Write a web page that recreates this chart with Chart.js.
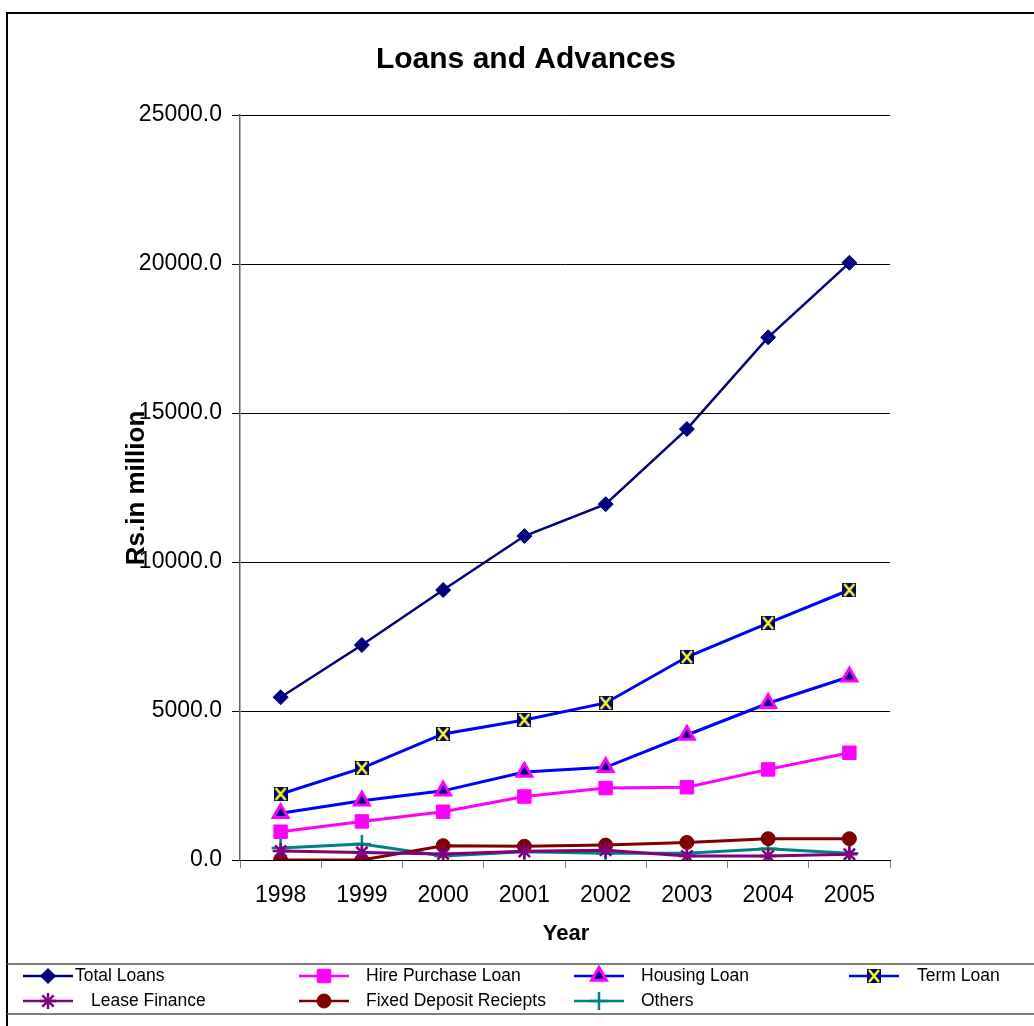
<!DOCTYPE html>
<html>
<head>
<meta charset="utf-8">
<title>Loans and Advances</title>
<script src="https://cdn.jsdelivr.net/npm/chart.js@4.4.1/dist/chart.umd.min.js"></script>
<style>
  html, body { margin: 0; padding: 0; background: #fff; }
  canvas { display: block; }
</style>
</head>
<body>
<canvas id="chart" width="1034" height="1026"></canvas>
<script>
// ── DATOS (Rs. in million) ─────────────────────
const YEARS = ["1998", "1999", "2000", "2001", "2002", "2003", "2004", "2005"];

const TOTAL_LOANS   = [5460, 7215, 9060, 10870, 11940, 14460, 17540, 20040];
const HIRE_PURCHASE = [950, 1295, 1620, 2130, 2415, 2440, 3040, 3600];
const HOUSING_LOAN  = [1570, 1990, 2320, 2950, 3110, 4195, 5260, 6150];
const TERM_LOAN     = [2215, 3085, 4230, 4700, 5270, 6810, 7950, 9060];
const LEASE_FINANCE = [300, 255, 200, 290, 325, 135, 135, 190];
const FIXED_DEPOSIT = [0, 0, 480, 460, 500, 590, 715, 715];
const OTHERS        = [400, 535, 135, 280, 225, 225, 380, 225];

const Y_TICKS = [0, 5000, 10000, 15000, 20000, 25000];

const FONT = "'Liberation Sans', Arial, sans-serif";

// ── MARCADOR TERM LOAN (cuadro azul con X amarilla) ──
function termMarker() {
  const c = document.createElement("canvas");
  c.width = 14; c.height = 14;
  const g = c.getContext("2d");
  g.fillStyle = "#000080";
  g.fillRect(0, 0, 14, 14);
  g.strokeStyle = "#FFFF00";
  g.lineWidth = 2.5;
  g.beginPath();
  g.moveTo(2, 1); g.lineTo(12, 13);
  g.moveTo(12, 1); g.lineTo(2, 13);
  g.stroke();
  return c;
}

function serie(label, data, line, style, fill, border, radius, width, bw) {
  return {
    label, data,
    borderColor: line,
    borderWidth: width,
    pointStyle: style,
    pointBackgroundColor: fill,
    pointBorderColor: border,
    pointBorderWidth: bw,
    pointRadius: radius,
    pointHoverRadius: radius,
    tension: 0,
    fill: false,
  };
}

const datasets = [
  serie("Total Loans", TOTAL_LOANS, "#000080", "rectRot", "#000080", "#000080", 7.5, 2.5, 1),
  serie("Hire Purchase Loan", HIRE_PURCHASE, "#FF00FF", "rect", "#FF00FF", "#FF00FF", 9.5, 3, 1),
  serie("Housing Loan", HOUSING_LOAN, "#0000FF", "triangle", "#000080", "#FF00FF", 8.5, 3, 3),
  serie("Term Loan", TERM_LOAN, "#0000FF", termMarker(), "#000080", "#000080", 7, 3, 0),
  serie("Lease Finance", LEASE_FINANCE, "#800080", "star", "#800080", "#800080", 8, 3, 2.5),
  serie("Fixed Deposit Reciepts", FIXED_DEPOSIT, "#800000", "circle", "#800000", "#800000", 7, 3, 1),
  serie("Others", OTHERS, "#008080", "cross", "#008080", "#008080", 9, 3, 2.5),
];

// Posiciones de la leyenda (columna, fila) y sangría del texto
const LEGEND_LAYOUT = [
  { x: 23,  y: 976, tx: 75 },
  { x: 299, y: 976, tx: 366 },
  { x: 574, y: 976, tx: 641 },
  { x: 849, y: 976, tx: 917 },
  { x: 23,  y: 1001, tx: 91 },
  { x: 299, y: 1001, tx: 366 },
  { x: 574, y: 1001, tx: 641 },
];

// ── DECORACIÓN: marco, título, ejes, leyenda ──
const decor = {
  id: "decor",
  beforeDraw(chart) {
    const ctx = chart.ctx;
    ctx.save();
    ctx.fillStyle = "#fff";
    ctx.fillRect(0, 0, chart.width, chart.height);
    ctx.strokeStyle = "#000";
    ctx.lineWidth = 2;
    ctx.strokeRect(7, 13, 1060, 1060);
    ctx.restore();
  },
  afterDraw(chart) {
    const ctx = chart.ctx;
    ctx.save();
    ctx.fillStyle = "#000";

    // Título
    ctx.font = "bold 30px " + FONT;
    ctx.textAlign = "center";
    ctx.textBaseline = "middle";
    ctx.fillText("Loans and Advances", 526, 60);

    // Título eje X
    ctx.font = "bold 22px " + FONT;
    ctx.fillText("Year", 566, 934);

    // Título eje Y (rotado, encima de los ticks)
    ctx.save();
    ctx.translate(137, 488);
    ctx.rotate(-Math.PI / 2);
    ctx.font = "bold 26px " + FONT;
    ctx.fillText("Rs.in million", 0, 0);
    ctx.restore();

    // Caja de leyenda
    ctx.strokeStyle = "#555";
    ctx.lineWidth = 1.5;
    ctx.beginPath();
    ctx.moveTo(7, 964); ctx.lineTo(chart.width, 964);
    ctx.moveTo(7, 1014); ctx.lineTo(chart.width, 1014);
    ctx.stroke();

    ctx.font = "17.5px " + FONT;
    ctx.textAlign = "left";
    chart.data.datasets.forEach((ds, i) => {
      const pos = LEGEND_LAYOUT[i];
      ctx.strokeStyle = ds.borderColor;
      ctx.lineWidth = 2.5;
      ctx.beginPath();
      ctx.moveTo(pos.x, pos.y);
      ctx.lineTo(pos.x + 50, pos.y);
      ctx.stroke();

      ctx.fillStyle = ds.pointBackgroundColor;
      ctx.strokeStyle = ds.pointBorderColor;
      ctx.lineWidth = ds.pointBorderWidth;
      Chart.helpers.drawPoint(ctx, {
        pointStyle: ds.pointStyle,
        radius: ds.pointRadius,
        borderWidth: ds.pointBorderWidth,
        rotation: 0,
      }, pos.x + 25, pos.y);

      ctx.fillStyle = "#000";
      ctx.fillText(ds.label, pos.tx, pos.y);
    });
    ctx.restore();
  }
};

// ── GRÁFICO ──────────────────────────────────
Chart.defaults.font.family = FONT;
Chart.defaults.color = "#000";

new Chart(document.getElementById("chart"), {
  type: "line",
  data: { labels: YEARS, datasets },
  plugins: [decor],
  options: {
    responsive: false,
    animation: false,
    layout: { padding: { left: 0, top: 115, right: 144, bottom: 0 } },
    plugins: {
      legend: { display: false },
      title: { display: false },
      tooltip: { enabled: false },
    },
    scales: {
      x: {
        offset: true,
        afterFit: s => { s.height = 166; },
        grid: {
          offset: true,
          drawOnChartArea: false,
          drawTicks: true,
          tickLength: 8,
          color: "#808080",
        },
        border: { color: "#000", width: 1 },
        ticks: { font: { size: 23 }, padding: 14, maxRotation: 0 },
      },
      y: {
        min: Y_TICKS[0],
        max: Y_TICKS[Y_TICKS.length - 1],
        afterFit: s => { s.width = 240; },
        afterBuildTicks: s => { s.ticks = Y_TICKS.map(v => ({ value: v })); },
        grid: { color: "#000", lineWidth: 1, tickLength: 8 },
        border: { color: "#606060", width: 1.5 },
        ticks: {
          font: { size: 23 },
          padding: 10,
          callback: v => Number(v).toFixed(1),
        },
      },
    },
  },
});
</script>
</body>
</html>
